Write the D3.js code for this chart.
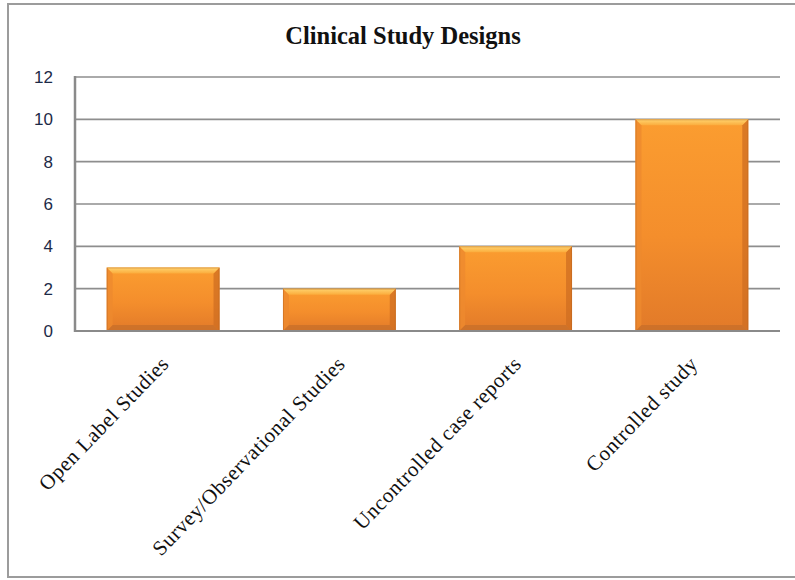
<!DOCTYPE html>
<html>
<head>
<meta charset="utf-8">
<script src="https://cdn.jsdelivr.net/npm/d3@7/dist/d3.min.js"></script>
<style>
  html, body { margin: 0; padding: 0; background: #fff; }
  svg { display: block; }
</style>
</head>
<body>
<svg id="chart" width="795" height="580"></svg>
<script>
// Chart data
const categories = ["Open Label Studies", "Survey/Observational Studies", "Uncontrolled case reports", "Controlled study"];
const counts = [3, 2, 4, 10];
const yTicks = [0, 2, 4, 6, 8, 10, 12];
const chartTitle = "Clinical Study Designs";

const svg = d3.select("#chart");
const W = 795, H = 580;
const plot = { left: 75, right: 780, top: 77, bottom: 331 };

// Outer frame (right side runs past the canvas edge)
svg.append("rect")
  .attr("x", 8).attr("y", 4)
  .attr("width", W + 20).attr("height", 573)
  .attr("fill", "#fff")
  .attr("stroke", "#9c9c9c").attr("stroke-width", 2);

// Gradients for the bevelled bars
const defs = svg.append("defs");
const gMain = defs.append("linearGradient").attr("id", "barMain")
  .attr("x1", 0).attr("y1", 0).attr("x2", 0).attr("y2", 1);
gMain.append("stop").attr("offset", "0%").attr("stop-color", "#fb9d30");
gMain.append("stop").attr("offset", "55%").attr("stop-color", "#f48e2c");
gMain.append("stop").attr("offset", "100%").attr("stop-color", "#e27a29");
const gTop = defs.append("linearGradient").attr("id", "barTop")
  .attr("x1", 0).attr("y1", 0).attr("x2", 0).attr("y2", 1);
gTop.append("stop").attr("offset", "0%").attr("stop-color", "#ffd470");
gTop.append("stop").attr("offset", "100%").attr("stop-color", "#fbac3c");

const x = d3.scaleBand()
  .domain(categories)
  .range([plot.left, plot.right])
  .paddingInner(0.36)
  .paddingOuter(0.18);

const y = d3.scaleLinear()
  .domain([0, 12])
  .range([plot.bottom, plot.top]);

// Title
svg.append("text")
  .attr("x", 403).attr("y", 44)
  .attr("text-anchor", "middle")
  .attr("font-family", "'Liberation Serif', 'Times New Roman', serif")
  .attr("font-weight", "bold")
  .attr("font-size", 24.5)
  .attr("fill", "#111")
  .text(chartTitle);

// Horizontal gridlines
svg.append("g")
  .selectAll("line")
  .data(yTicks.filter(d => d > 0))
  .join("line")
  .attr("x1", plot.left).attr("x2", plot.right)
  .attr("y1", d => y(d)).attr("y2", d => y(d))
  .attr("stroke", "#8e8e8e").attr("stroke-width", 1.6);

// Y axis labels
const yAxis = d3.axisLeft(y).tickValues(yTicks).tickSize(0).tickPadding(22);
const yG = svg.append("g").attr("transform", `translate(${plot.left},0)`).call(yAxis);
yG.select(".domain").remove();
yG.selectAll("text")
  .attr("font-family", "'Liberation Sans', Arial, sans-serif")
  .attr("font-size", 17)
  .attr("fill", "#1d2a47");

// Bars with bevelled edges
const bev = 6;
const bars = svg.append("g").selectAll("g")
  .data(categories.map((c, i) => ({ c, v: counts[i] })))
  .join("g");

bars.append("rect")
  .attr("x", d => x(d.c)).attr("y", d => y(d.v))
  .attr("width", x.bandwidth())
  .attr("height", d => y(0) - y(d.v))
  .attr("fill", "url(#barMain)");

// left bevel
bars.append("polygon")
  .attr("points", d => {
    const x0 = x(d.c), y0 = y(d.v), y1 = y(0);
    return [[x0, y0], [x0 + bev, y0 + bev], [x0 + bev, y1 - bev], [x0, y1]].join(" ");
  })
  .attr("fill", "#ee8a2e").attr("opacity", 0.8);
// right bevel
bars.append("polygon")
  .attr("points", d => {
    const x1 = x(d.c) + x.bandwidth(), y0 = y(d.v), y1 = y(0);
    return [[x1, y0], [x1 - bev, y0 + bev], [x1 - bev, y1 - bev], [x1, y1]].join(" ");
  })
  .attr("fill", "#cf6e22").attr("opacity", 0.75);
// bottom bevel
bars.append("polygon")
  .attr("points", d => {
    const x0 = x(d.c), x1 = x0 + x.bandwidth(), y1 = y(0);
    return [[x0, y1], [x0 + bev, y1 - bev], [x1 - bev, y1 - bev], [x1, y1]].join(" ");
  })
  .attr("fill", "#c56e2a").attr("opacity", 0.7);
// top bevel
bars.append("polygon")
  .attr("points", d => {
    const x0 = x(d.c), x1 = x0 + x.bandwidth(), y0 = y(d.v);
    return [[x0, y0], [x1, y0], [x1 - bev, y0 + bev], [x0 + bev, y0 + bev]].join(" ");
  })
  .attr("fill", "url(#barTop)");
// thin dark outline on the bar's base and sides
bars.append("rect")
  .attr("x", d => x(d.c) + 0.5).attr("y", d => y(d.v) + 0.5)
  .attr("width", x.bandwidth() - 1)
  .attr("height", d => y(0) - y(d.v) - 1)
  .attr("fill", "none")
  .attr("stroke", "#b8631f").attr("stroke-opacity", 0.45).attr("stroke-width", 1);

// Axis lines
svg.append("line")
  .attr("x1", plot.left).attr("x2", plot.left)
  .attr("y1", y(12) - 1).attr("y2", y(0) + 1)
  .attr("stroke", "#8a8a8a").attr("stroke-width", 2.5);
svg.append("line")
  .attr("x1", plot.left).attr("x2", plot.right)
  .attr("y1", y(0)).attr("y2", y(0))
  .attr("stroke", "#8a8a8a").attr("stroke-width", 2.2);

// Rotated category labels
svg.append("g").selectAll("text")
  .data(categories)
  .join("text")
  .attr("transform", d => `translate(${x(d) + x.bandwidth() / 2 + 7},${365}) rotate(-46)`)
  .attr("text-anchor", "end")
  .attr("font-family", "'Liberation Serif', 'Times New Roman', serif")
  .attr("font-size", 21)
  .attr("letter-spacing", 0.6)
  .attr("fill", "#111")
  .text(d => d);
</script>
</body>
</html>
